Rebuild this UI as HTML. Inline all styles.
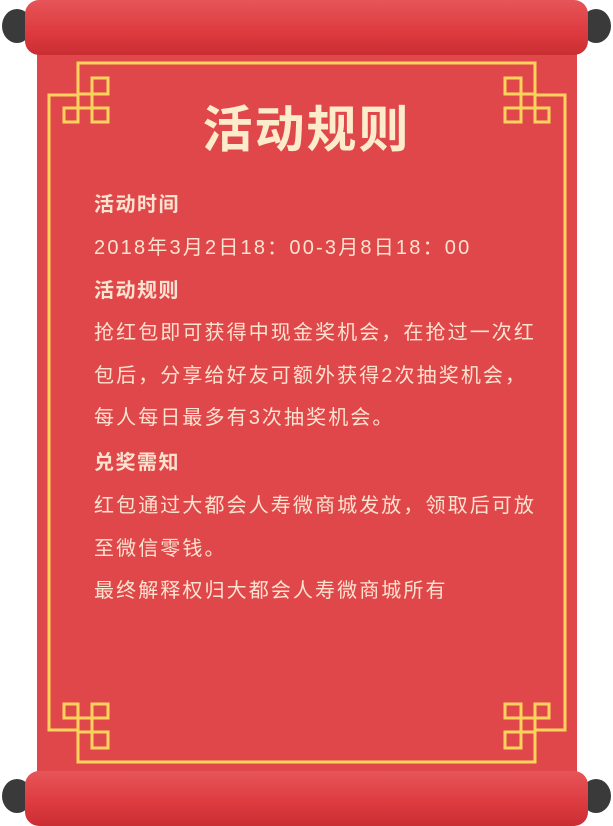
<!DOCTYPE html>
<html><head><meta charset="utf-8">
<style>
html,body{margin:0;padding:0;width:613px;height:826px;overflow:hidden;background:#fff;}
body{position:relative;font-family:"Liberation Sans","Noto Sans CJK SC",sans-serif;}
.abs{position:absolute;}
.paper{left:37px;top:45px;width:540px;height:735px;background:#e0474b;}
.rod{left:25px;width:563px;height:55px;border-radius:14px;background:linear-gradient(#e65558,#dd3a3f 60%,#c92e33);}
.knob{width:30px;height:34px;border-radius:50%;background:#3a3a3a;}
.line{color:#fbe3cf;font-size:20px;letter-spacing:2.1px;left:94px;white-space:nowrap;}
.b{font-weight:bold;}
</style></head><body>
<div class="abs knob" style="left:2px;top:9px"></div>
<div class="abs knob" style="left:581px;top:9px"></div>
<div class="abs knob" style="left:2px;top:779px"></div>
<div class="abs knob" style="left:581px;top:779px"></div>
<div class="abs paper"></div>
<div class="abs rod" style="top:0"></div>
<div class="abs rod" style="top:771px"></div>
<svg class="abs" style="left:0;top:0" width="613" height="826" fill="none" stroke="#fbd35c" stroke-width="3">
<path d="M78,95 V63 H535 V95 H565 V730 H535 V762 H78 V730 H49 V95 Z"/>
<g><rect x="64" y="108" width="14" height="14"/><rect x="78" y="94" width="14" height="14"/><rect x="92" y="78" width="16" height="16"/><rect x="92" y="108" width="16" height="14"/></g>
<g transform="translate(613,0) scale(-1,1)"><rect x="64" y="108" width="14" height="14"/><rect x="78" y="94" width="14" height="14"/><rect x="92" y="78" width="16" height="16"/><rect x="92" y="108" width="16" height="14"/></g>
<g transform="translate(0,826) scale(1,-1)"><rect x="64" y="108" width="14" height="14"/><rect x="78" y="94" width="14" height="14"/><rect x="92" y="78" width="16" height="16"/><rect x="92" y="108" width="16" height="14"/></g>
<g transform="translate(613,826) scale(-1,-1)"><rect x="64" y="108" width="14" height="14"/><rect x="78" y="94" width="14" height="14"/><rect x="92" y="78" width="16" height="16"/><rect x="92" y="108" width="16" height="14"/></g>
</svg>
<div class="abs b" style="left:0;width:613px;text-align:center;top:90px;font-size:50px;color:#fdeccb;letter-spacing:2px">活动规则</div>
<div class="abs line b" style="top:188px;letter-spacing:1.5px">活动时间</div>
<div class="abs line" style="top:231px;letter-spacing:2.2px">2018年3月2日18：00-3月8日18：00</div>
<div class="abs line b" style="top:274px;letter-spacing:1.5px">活动规则</div>
<div class="abs line" style="top:316px">抢红包即可获得中现金奖机会，在抢过一次红</div>
<div class="abs line" style="top:359px">包后，分享给好友可额外获得2次抽奖机会，</div>
<div class="abs line" style="top:401px">每人每日最多有3次抽奖机会。</div>
<div class="abs line b" style="top:446px;letter-spacing:1.5px">兑奖需知</div>
<div class="abs line" style="top:489px">红包通过大都会人寿微商城发放，领取后可放</div>
<div class="abs line" style="top:532px">至微信零钱。</div>
<div class="abs line" style="top:574px">最终解释权归大都会人寿微商城所有</div>
</body></html>
